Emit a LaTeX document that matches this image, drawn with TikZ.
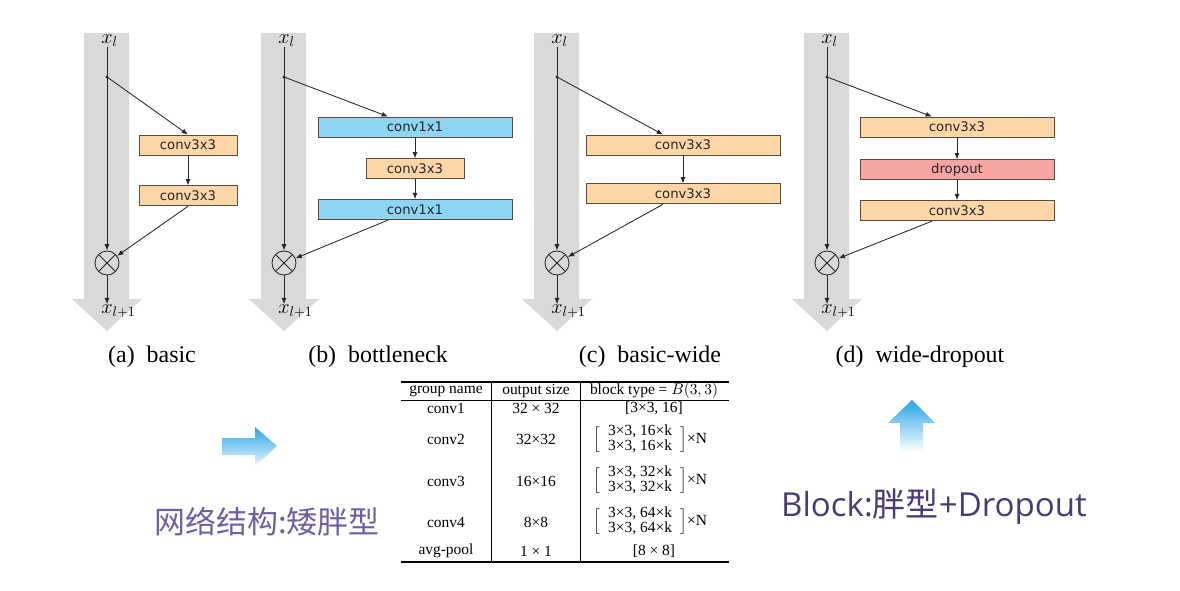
\documentclass[tikz,border=0pt]{standalone}
\usepackage{fontspec}
\setmainfont{Liberation Serif}
\setsansfont{DejaVu Sans}
\newfontfamily\cjkfont{Noto Sans CJK SC}
\newfontfamily\notefont{Open Sans}
\usetikzlibrary{arrows.meta,positioning}
\definecolor{bandgray}{HTML}{D9D9D9}
\definecolor{boxedge}{HTML}{5A4A40}
\definecolor{convorange}{HTML}{FDD6A8}
\definecolor{convblue}{HTML}{8ED5F3}
\definecolor{droppink}{HTML}{F6A5A3}
\definecolor{arrowblue}{HTML}{27A4E8}
\definecolor{cnpurple}{HTML}{6F5FA2}
\definecolor{blockpurple}{HTML}{4A3B78}
\tikzset{
	convbox/.style={rectangle, draw=boxedge, fill=convorange, line width=0.6pt,
		minimum height=0.5cm, minimum width=2.45cm, inner sep=0pt,
		font=\sffamily\fontsize{9.4}{11}\selectfont, text=black!85},
	widebox/.style={convbox, minimum width=4.85cm},
	onebox/.style={widebox, fill=convblue},
	dropbox/.style={widebox, fill=droppink},
	flowarr/.style={-{Latex[length=4.5pt,width=3.5pt]}, black!85, line width=0.6pt},
	sumnode/.style={circle, draw=black!85, line width=0.6pt, minimum size=0.6cm, inner sep=0pt,
		path picture={\draw[black!85, line width=0.6pt]
			(path picture bounding box.north west) -- (path picture bounding box.south east)
			(path picture bounding box.north east) -- (path picture bounding box.south west);}},
	varlabel/.style={font=\fontsize{14}{16}\selectfont, inner sep=0pt, anchor=west},
	captext/.style={font=\fontsize{17}{20}\selectfont},
	tabtext/.style={font=\fontsize{11}{12}\selectfont, inner sep=0pt}
}
\newcommand{\blockpair}[1]{$\delimiterfactor=800\delimitershortfall=10pt
	\left[\begin{tabular}{c}3×3, #1×k\\3×3, #1×k\end{tabular}\right]$×N}
\renewcommand{\arraystretch}{0.82}

\begin{document}
\begin{tikzpicture}[x=0.025cm, y=-0.025cm]
	\fill[white] (0,0) rectangle (1180,591);
	\useasboundingbox (0,0) rectangle (1180,591);

	% identity path of each unit
	\foreach \cx/\p in {107/a,284/b,557/c,827/d}{
		\fill[bandgray] (\cx-23,33) -- (\cx+22,33) -- (\cx+22,299) -- (\cx+35,299)
			-- (\cx,331) -- (\cx-35,299) -- (\cx-23,299) -- cycle;
		\node[varlabel] (xin\p) at (\cx-6,41) {$x_l$};
		\coordinate (split\p) at (\cx,77);
		\node[sumnode] (sum\p) at (\cx,263) {};
		\node[varlabel] (xout\p) at (\cx-6,311) {$x_{l+1}$};
		\draw[flowarr] (xin\p.south -| sum\p) -- (sum\p);
		\draw[flowarr] (sum\p) -- (sum\p |- xout\p.north);
		\fill[black!85] (split\p) circle (1.6);
	}

	% (a) basic
	\node[convbox] (a1) at (188,145) {conv3x3};
	\node[convbox, below=0.75cm of a1] (a2) {conv3x3};
	\draw[flowarr] (splita) -- (a1.north);
	\draw[flowarr] (a1) -- (a2);
	\draw[flowarr] (a2.south) -- (suma);

	% (b) bottleneck
	\node[onebox] (b1) at (415,127) {conv1x1};
	\node[convbox, below=0.525cm of b1] (b2) {conv3x3};
	\node[onebox, below=0.5cm of b2] (b3) {conv1x1};
	\draw[flowarr] (splitb) -- ([xshift=-0.675cm]b1.north);
	\draw[flowarr] (b1) -- (b2);
	\draw[flowarr] (b2) -- (b3);
	\draw[flowarr] ([xshift=-0.675cm]b3.south) -- (sumb);

	% (c) basic-wide
	\node[widebox] (c1) at (683,145) {conv3x3};
	\node[widebox, below=0.7cm of c1] (c2) {conv3x3};
	\draw[flowarr] (splitc) -- ([xshift=-0.5cm]c1.north);
	\draw[flowarr] (c1) -- (c2);
	\draw[flowarr] ([xshift=-0.5cm]c2.south) -- (sumc);

	% (d) wide-dropout
	\node[widebox] (d1) at (957,127) {conv3x3};
	\node[dropbox, below=0.55cm of d1] (d2) {dropout};
	\node[widebox, below=0.5cm of d2] (d3) {conv3x3};
	\draw[flowarr] (splitd) -- ([xshift=-0.625cm]d1.north);
	\draw[flowarr] (d1) -- (d2);
	\draw[flowarr] (d2) -- (d3);
	\draw[flowarr] ([xshift=-0.625cm]d3.south) -- (sumd);

	% captions
	\node[captext] (capa) at (152,357) {(a)\enspace basic};
	\node[captext] (capb) at (378,357) {(b)\enspace bottleneck};
	\node[captext] (capc) at (650,357) {(c)\enspace basic-wide};
	\node[captext] (capd) at (920,357) {(d)\enspace wide-dropout};

	% table
	\draw[line width=1.1pt] (401,382) -- (729,382);
	\draw[line width=0.6pt] (401,400) -- (729,400);
	\draw[line width=1.1pt] (401,562) -- (729,562);
	\draw[line width=0.6pt] (491,382) -- (491,562);
	\draw[line width=0.6pt] (580,382) -- (580,562);
	\node[tabtext] (hgroup) at (446,391) {group name};
	\node[tabtext] (hsize) at (536,391) {output size};
	\node[tabtext] (htype) at (654,391) {block type = $B(3,3)$};
	\node[tabtext] (g1) at (446,408) {conv1};
	\node[tabtext] (s1) at (536,408) {32 × 32};
	\node[tabtext] (t1) at (654,408) {[3×3, 16]};
	\node[tabtext] (g2) at (446,439) {conv2};
	\node[tabtext] (s2) at (536,439) {32×32};
	\node[tabtext] (t2) at (650,440) {\blockpair{16}};
	\node[tabtext] (g3) at (446,481) {conv3};
	\node[tabtext] (s3) at (536,481) {16×16};
	\node[tabtext] (t3) at (650,481) {\blockpair{32}};
	\node[tabtext] (g4) at (446,522) {conv4};
	\node[tabtext] (s4) at (536,522) {8×8};
	\node[tabtext] (t4) at (650,522) {\blockpair{64}};
	\node[tabtext] (g5) at (446,551) {avg-pool};
	\node[tabtext] (s5) at (536,551) {1 × 1};
	\node[tabtext] (t5) at (654,551) {[8 × 8]};

	% blue hint arrows
	\shade[top color=arrowblue, bottom color=arrowblue!8] (222,438) -- (255,438) -- (255,427)
		-- (277,446) -- (255,466) -- (255,455) -- (222,455) -- cycle;
	\shade[top color=arrowblue, bottom color=white] (912,400) -- (935,423) -- (923,423)
		-- (923,452) -- (900,452) -- (900,423) -- (888,423) -- cycle;

	% notes
	\node[text=cnpurple, font=\cjkfont\fontsize{22}{25}\selectfont] (cnnote) at (267,522) {网络结构:矮胖型};
	\node[text=blockpurple, font=\notefont\fontsize{23.5}{26}\selectfont] (blocknote) at (934,507) {Block:{\cjkfont 胖型}+Dropout};
\end{tikzpicture}
\end{document}
